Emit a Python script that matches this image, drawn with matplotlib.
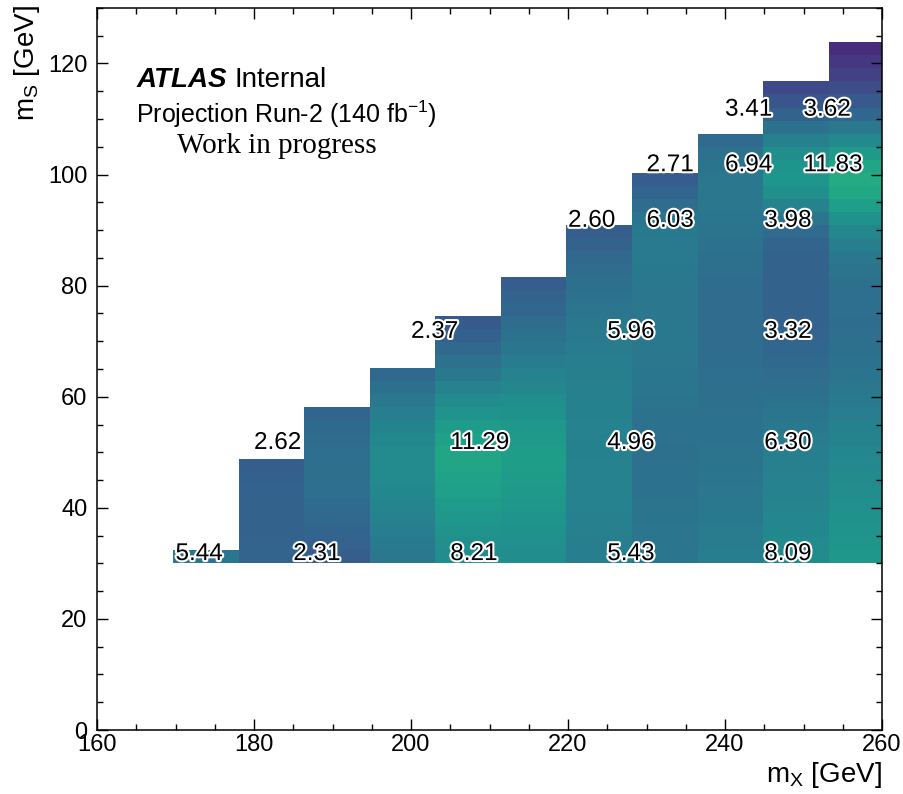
import numpy as np
import matplotlib
matplotlib.use("Agg")
import matplotlib.pyplot as plt
import matplotlib.patheffects as pe
from matplotlib.colors import Normalize
from matplotlib.ticker import MultipleLocator

plt.rcParams["font.family"] = ["Liberation Sans", "DejaVu Sans"]
plt.rcParams["mathtext.fontset"] = "custom"
plt.rcParams["mathtext.rm"] = "Liberation Sans"
plt.rcParams["mathtext.it"] = "Liberation Sans:italic"

# Signal points (m_X, m_S) and the quoted value at each point
mx_pts = [170, 185, 205, 225, 245,
          180, 205, 225, 245,
          200, 225, 245,
          220, 230, 245,
          230, 240, 250,
          240, 250]
ms_pts = [30, 30, 30, 30, 30,
          50, 50, 50, 50,
          70, 70, 70,
          90, 90, 90,
          100, 100, 100,
          110, 110]
values = [5.44, 2.31, 8.21, 5.43, 8.09,
          2.62, 11.29, 4.96, 6.30,
          2.37, 5.96, 3.32,
          2.60, 6.03, 3.98,
          2.71, 6.94, 11.83,
          3.41, 3.62]

# Mesh: 11 m_X columns, 40 m_S rows, staircase upper edge per column
x_edges = 169.7 + 8.35 * np.arange(12)
y_edges = 30 + 2.345 * np.arange(41)
col_top = [32.3, 48.8, 58.1, 65.2, 74.6, 81.6, 91.0, 100.4, 107.4, 116.8, 123.8]


def thin_plate(xp, yp, vp, xq, yq):
    """Thin-plate spline surface through (xp, yp, vp), evaluated at (xq, yq)."""
    p = np.column_stack([xp, yp]) / 10.0
    q = np.column_stack([xq, yq]) / 10.0

    def kern(a, b):
        d = np.linalg.norm(a[:, None, :] - b[None, :, :], axis=-1)
        with np.errstate(divide="ignore", invalid="ignore"):
            return np.where(d > 0, d ** 2 * np.log(d), 0.0)

    n = len(vp)
    P = np.column_stack([np.ones(n), p])
    A = np.zeros((n + 3, n + 3))
    A[:n, :n] = kern(p, p)
    A[:n, n:] = P
    A[n:, :n] = P.T
    sol = np.linalg.solve(A, np.concatenate([vp, np.zeros(3)]))
    w, c = sol[:n], sol[n:]
    Q = np.column_stack([np.ones(len(q)), q])
    return kern(q, p) @ w + Q @ c


xc = 0.5 * (x_edges[:-1] + x_edges[1:])
yc = 0.5 * (y_edges[:-1] + y_edges[1:])
XC, YC = np.meshgrid(xc, yc)
half_col = 0.5 * (x_edges[1] - x_edges[0])
Z = thin_plate(np.array(mx_pts) + half_col, np.array(ms_pts, float),
               np.array(values), XC.ravel(), YC.ravel()).reshape(XC.shape)
Z = np.ma.masked_where(YC > np.array(col_top)[None, :], Z)

fig = plt.figure(figsize=(9.04, 7.94), dpi=100)
ax = fig.add_axes([0.1073, 0.0806, 0.8684, 0.9094])

ax.pcolormesh(x_edges, y_edges, Z, cmap="viridis",
              norm=Normalize(vmin=-6, vmax=23), shading="flat")

halo = [pe.withStroke(linewidth=3, foreground="white")]
for x, y, v in zip(mx_pts, ms_pts, values):
    ax.text(x, y + 0.6, f"{v:.2f}", fontsize=17.5, ha="left", va="baseline",
            color="black", path_effects=halo, zorder=5)

ax.set_xlim(160, 260)
ax.set_ylim(0, 130)
ax.xaxis.set_major_locator(MultipleLocator(20))
ax.xaxis.set_minor_locator(MultipleLocator(5))
ax.yaxis.set_major_locator(MultipleLocator(20))
ax.yaxis.set_minor_locator(MultipleLocator(5))
ax.tick_params(which="both", direction="in", top=True, right=True, width=1)
ax.tick_params(which="major", length=8, labelsize=17, pad=3)
ax.tick_params(axis="y", which="major", pad=7)
ax.tick_params(which="minor", length=4)
for s in ax.spines.values():
    s.set_linewidth(1.1)

t_atlas = ax.text(0.051, 0.8906, "ATLAS", transform=ax.transAxes, fontsize=20,
                  fontweight="bold", fontstyle="italic", ha="left", va="baseline")
ax.annotate("Internal", xy=(1, 0), xycoords=t_atlas, xytext=(5, 0),
            textcoords="offset points", fontsize=20, ha="left", va="bottom")
ax.text(0.0497, 0.841, r"Projection Run-2 (140 fb$^{\mathregular{-1}}$)",
        transform=ax.transAxes, fontsize=18, ha="left", va="baseline")
ax.text(0.102, 0.799, "Work in progress", transform=ax.transAxes,
        fontsize=21, family="Liberation Serif", ha="left", va="baseline")

fig.text(27 / 904, 1 - 5 / 794, r"m$_\mathregular{S}$ [GeV]", rotation=90,
         fontsize=20, ha="center", va="top")
fig.text(882 / 904, 1 - 775 / 794, r"m$_\mathregular{X}$ [GeV]",
         fontsize=20, ha="right", va="center")

fig.savefig("out.png", dpi=100)
